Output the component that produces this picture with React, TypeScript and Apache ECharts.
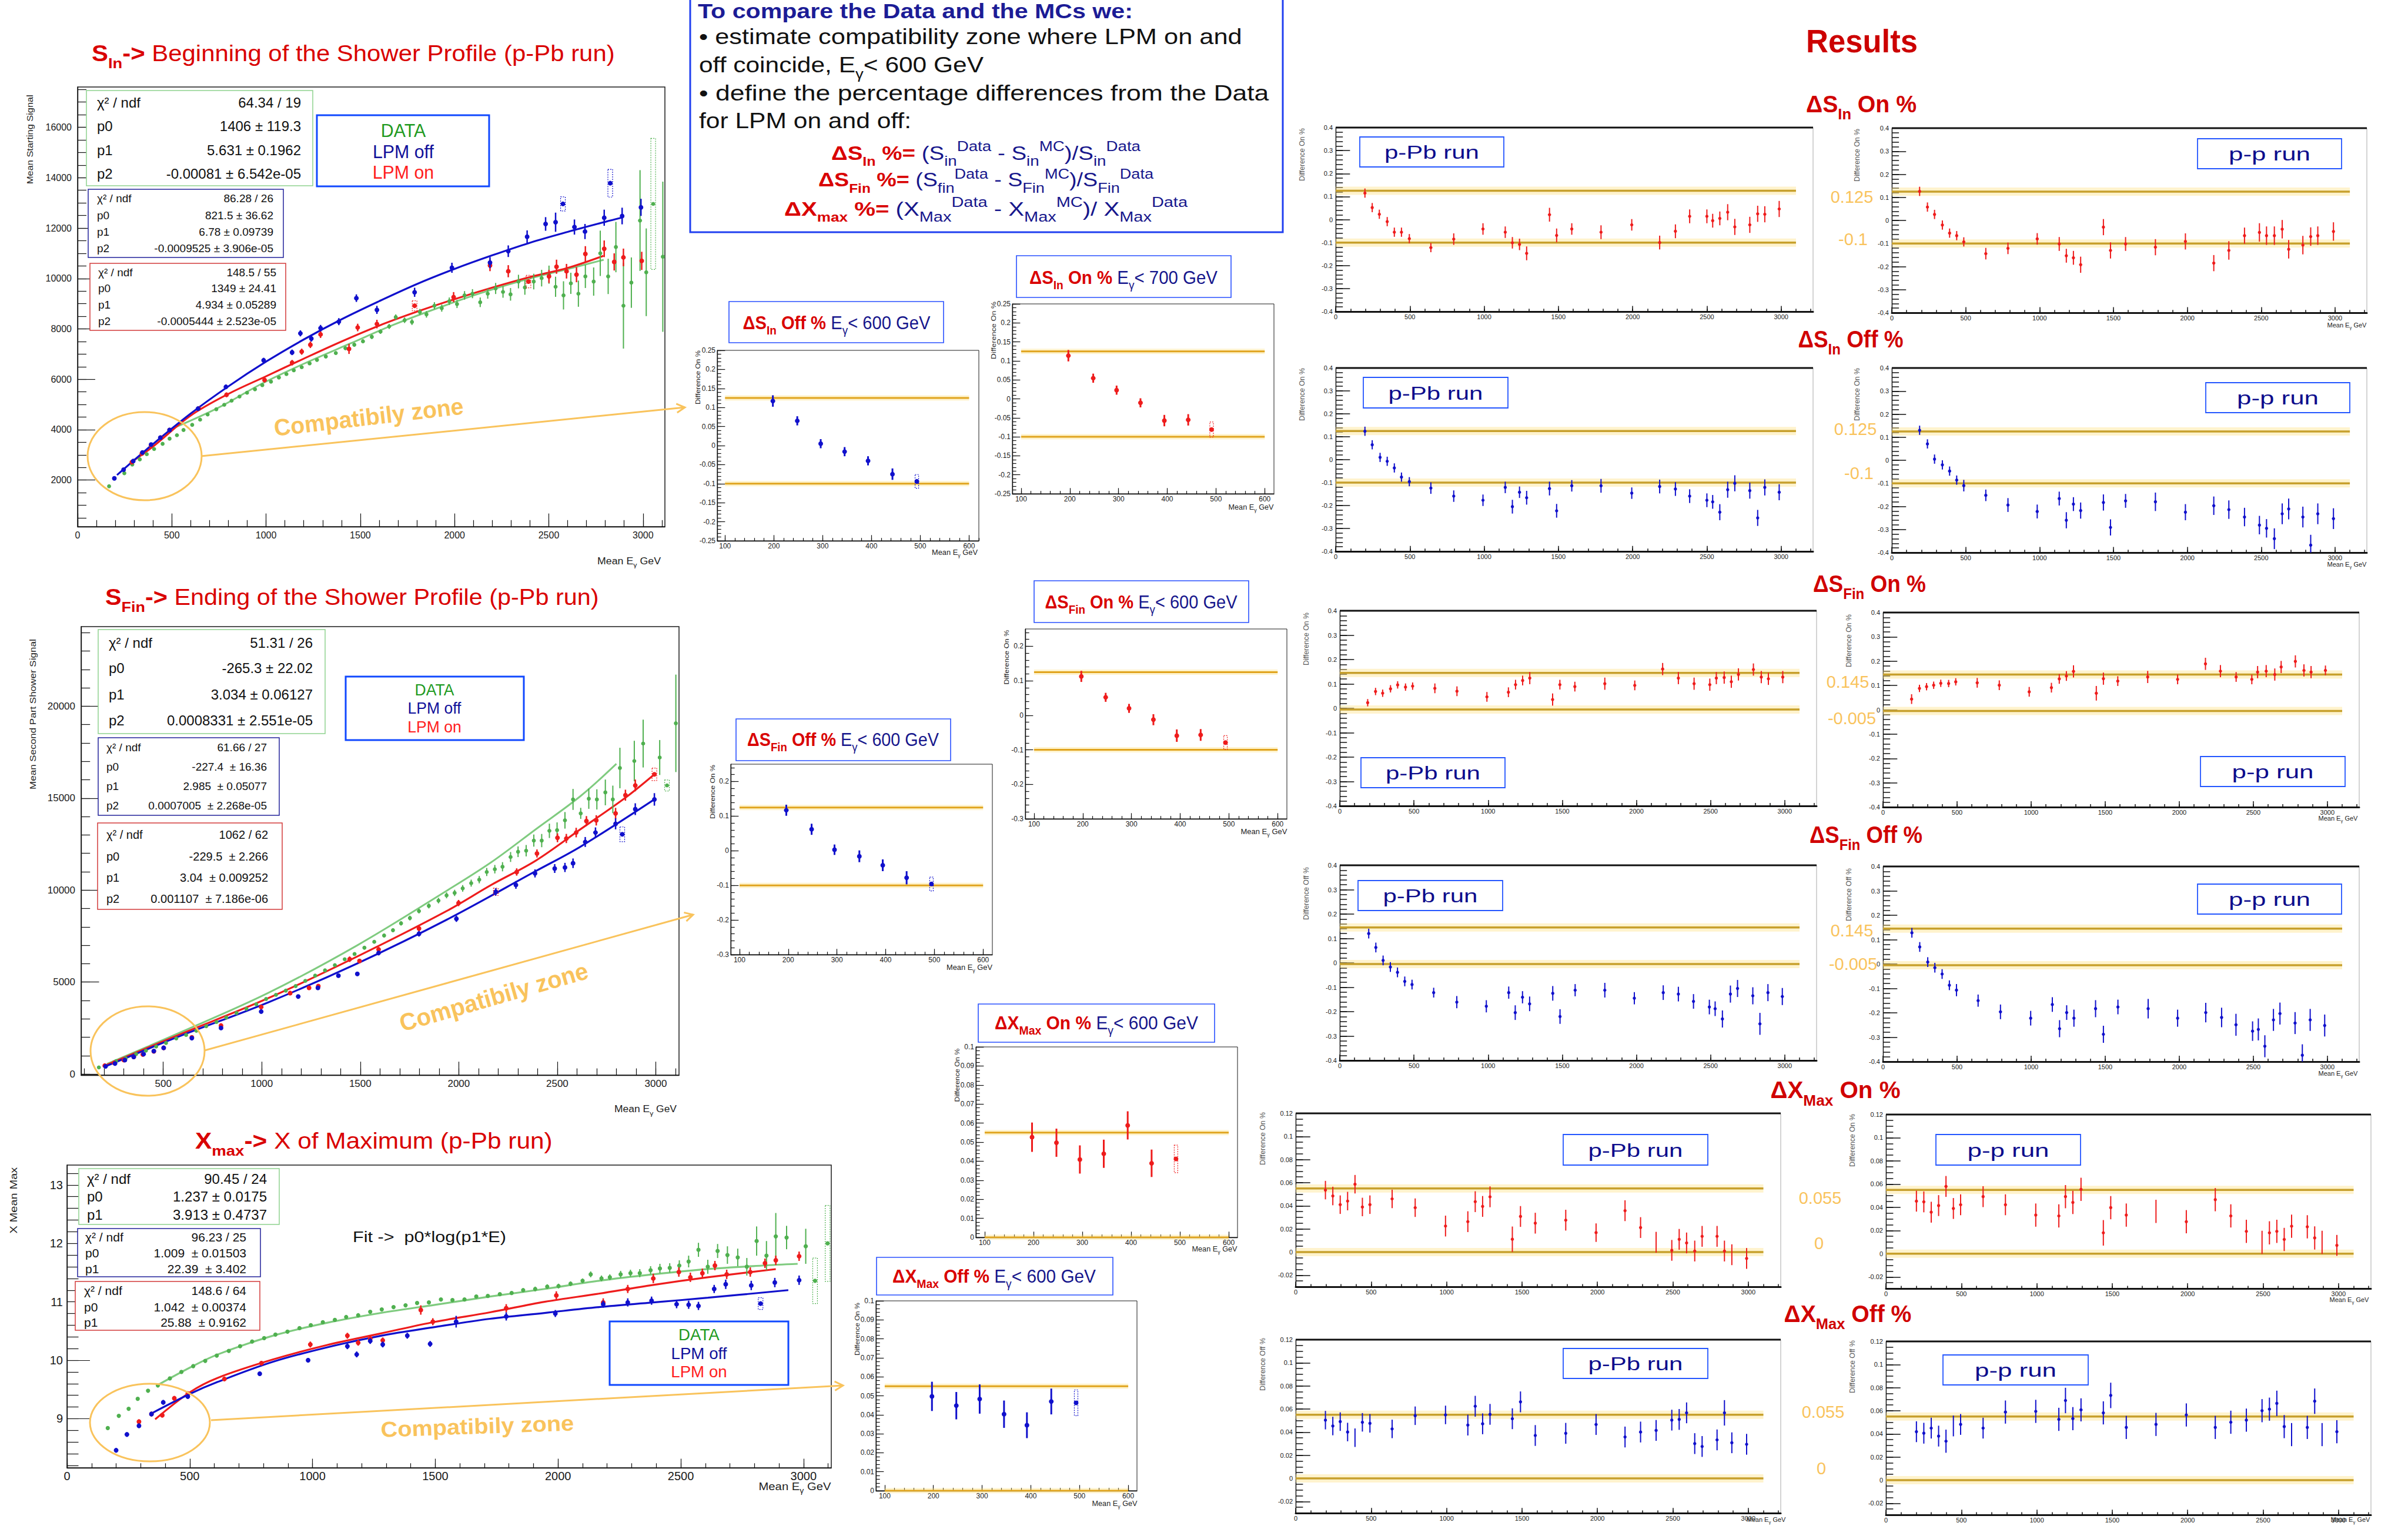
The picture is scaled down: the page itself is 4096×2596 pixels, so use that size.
import React, { useEffect, useRef } from "react";
import * as echarts from "echarts";

const FONT = "Liberation Sans";
const RED = "#d90000";
const NAVY = "#16168c";
const ORANGE = "#f9c35c";
const GREEN_PT = "#4fb04f";
const GREEN_LN = "#7fcb7f";
const BLUE = "#1010cc";
const REDPT = "#ee1c1c";

// ================= DATA =================
// --- S_in (p-Pb) ---
const SIN_X_TICKS = [0, 500, 1000, 1500, 2000, 2500, 3000];
const SIN_Y_TICKS = [2000, 4000, 6000, 8000, 10000, 12000, 14000, 16000];
const SIN_DATA = [
  [167, 1753, 40], [248, 2274, 40], [290, 2617, 40], [330, 2822, 40], [367, 3028, 40], [406, 3233, 40], [451, 3439, 40], [488, 3644, 40],
  [527, 3781, 40], [562, 3987, 40], [608, 4192, 40], [650, 4398, 40], [690, 4603, 40], [736, 4809, 40], [778, 4987, 50], [817, 5151, 50],
  [859, 5315, 50], [899, 5466, 50], [941, 5603, 50], [980, 5768, 50], [1026, 5905, 50], [1068, 6069, 60], [1108, 6206, 60], [1147, 6357, 60],
  [1189, 6480, 60], [1231, 6631, 60], [1270, 6768, 70], [1317, 6905, 70], [1370, 7042, 70], [1421, 7234, 80], [1468, 7370, 80], [1514, 7507, 80],
  [1561, 7686, 90], [1607, 7891, 90], [1653, 8097, 100], [1688, 8466, 110], [1735, 8343, 110], [1774, 8275, 120], [1816, 8672, 120], [1851, 8576, 130],
  [1893, 8919, 140], [1932, 8823, 140], [1972, 9097, 150], [2013, 8987, 160], [2053, 9330, 170], [2095, 9398, 180], [2136, 9056, 190], [2176, 9398, 200],
  [2218, 9604, 220], [2257, 9467, 230], [2297, 9371, 250], [2339, 9878, 270], [2373, 9645, 290], [2420, 9878, 310], [2462, 10015, 330], [2501, 10152, 360],
  [2536, 9672, 400], [2578, 9330, 560], [2617, 9809, 420], [2657, 9398, 520], [2694, 10083, 460], [2738, 9878, 560], [2773, 11000, 900], [2815, 10083, 700],
  [2856, 11248, 1000], [2896, 8919, 1700], [2938, 9836, 1000], [2984, 12300, 2000], [3017, 10247, 1740], [3054, 12960, 2600, 1], [3105, 10864, 2980],
];
const SIN_LPM_OFF = [
  [195, 2068, 50], [244, 2411, 50], [295, 2754, 50], [344, 3096, 60], [390, 3411, 60], [439, 3685, 60], [488, 3987, 70], [639, 4836, 80],
  [787, 5699, 90], [987, 6754, 100], [1138, 7069, 110], [1182, 7823, 120], [1240, 7617, 120], [1289, 8028, 130], [1386, 8288, 140], [1479, 9220, 150],
  [1588, 8754, 160], [1788, 9453, 180], [1986, 10426, 200], [2188, 10631, 220], [2285, 11083, 230], [2385, 11659, 250], [2483, 12165, 270], [2536, 12234, 380],
  [2575, 12960, 280, 1], [2636, 12042, 300], [2692, 11864, 300], [2794, 12412, 320], [2826, 13782, 550, 1], [2889, 12480, 330], [2989, 12823, 340],
];
const SIN_LPM_ON = [
  [288, 2712, 50], [341, 3055, 60], [390, 3370, 60], [441, 3685, 60], [488, 3987, 70], [643, 4836, 80], [790, 5384, 90], [992, 5973, 100],
  [1138, 6658, 110], [1189, 7096, 120], [1235, 7370, 130], [1289, 7781, 140], [1440, 7206, 200], [1486, 8055, 150], [1588, 8192, 170], [1788, 8919, 200, 1],
  [1995, 9261, 200], [2188, 10521, 230], [2285, 10289, 240], [2392, 9878, 250, 1], [2501, 10083, 260], [2541, 10467, 280], [2594, 10289, 290], [2647, 10152, 300],
  [2694, 10974, 310], [2794, 11179, 330], [2847, 10658, 340], [2896, 10837, 350], [2993, 10700, 360],
];
const SIN_FIT_DATA = [[520, 4100], [748, 4877], [980, 5836], [1212, 6658], [1444, 7412], [1677, 8165], [1909, 8823], [2141, 9426], [2373, 9946], [2606, 10385], [2791, 10741]];
const SIN_FIT_OFF = [[209, 2200], [400, 3430], [600, 4640], [800, 5720], [1000, 6700], [1200, 7580], [1400, 8380], [1600, 9100], [1800, 9780], [2000, 10380], [2200, 10920], [2400, 11420], [2600, 11850], [2800, 12250], [2890, 12420]];
const SIN_FIT_ON = [[280, 2690], [400, 3330], [600, 4560], [800, 5420], [1000, 6120], [1200, 6820], [1400, 7500], [1600, 8130], [1800, 8680], [2000, 9180], [2200, 9640], [2400, 10060], [2600, 10420], [2790, 10900]];
const SIN_STAT_DATA = ["64.34 / 19", "1406 ± 119.3", "5.631 ± 0.1962", "-0.00081 ± 6.542e-05"];
const SIN_STAT_OFF = ["86.28 / 26", "821.5 ± 36.62", "6.78 ± 0.09739", "-0.0009525 ± 3.906e-05"];
const SIN_STAT_ON = ["148.5 / 55", "1349 ± 24.41", "4.934 ± 0.05289", "-0.0005444 ± 2.523e-05"];

// --- S_fin (p-Pb) ---
const SFIN_X_TICKS = [500, 1000, 1500, 2000, 2500, 3000];
const SFIN_Y_TICKS = [0, 5000, 10000, 15000, 20000];
const SFIN_DATA = [
  [173, 361, 30], [260, 702, 30], [309, 854, 30], [362, 1082, 30], [412, 1271, 30], [464, 1499, 30], [514, 1689, 30], [566, 1935, 40],
  [616, 2125, 40], [668, 2353, 40], [718, 2600, 40], [770, 2828, 40], [820, 3074, 50], [872, 3321, 50], [922, 3549, 50], [972, 3795, 50],
  [1022, 4080, 60], [1072, 4307, 60], [1122, 4535, 60], [1172, 4782, 70], [1221, 5066, 70], [1271, 5351, 70], [1321, 5636, 80], [1371, 5920, 80],
  [1421, 6243, 90], [1471, 6527, 90], [1521, 6869, 100], [1571, 7191, 100], [1621, 7533, 110], [1666, 7818, 110], [1707, 8197, 120], [1752, 8482, 130],
  [1798, 8862, 130], [1848, 9146, 140], [1897, 9431, 150], [1938, 9716, 160], [1979, 9849, 170], [2020, 10096, 180], [2063, 10380, 190], [2104, 10570, 200],
  [2142, 10987, 220], [2183, 11139, 230], [2222, 11272, 250], [2263, 11803, 270], [2301, 12088, 290], [2342, 12145, 310], [2381, 12695, 330], [2421, 12695, 360],
  [2460, 13226, 390], [2499, 13264, 420], [2539, 13796, 450], [2580, 14934, 570], [2619, 14175, 300], [2660, 14972, 550], [2701, 14934, 550], [2744, 15314, 700],
  [2782, 14934, 750], [2818, 16642, 1100], [2891, 17022, 1100], [2936, 17971, 1300], [3020, 17212, 950], [3057, 15694, 300, 1], [3102, 19071, 2650],
];
const SFIN_LPM_ON = [
  [203, 455, 40], [250, 607, 40], [300, 759, 40], [350, 930, 40], [396, 1063, 40], [452, 1234, 50], [502, 1423, 50], [645, 1992, 60],
  [793, 2637, 70], [997, 3643, 80], [1144, 4402, 90], [1240, 4686, 100], [1287, 4782, 100], [1446, 6243, 150], [1496, 6148, 120], [1593, 6774, 130],
  [1798, 7913, 150], [1999, 9298, 170], [2188, 9906, 200, 1], [2294, 10987, 200], [2397, 11993, 220], [2501, 12846, 240], [2546, 12808, 250], [2596, 13131, 260],
  [2648, 13757, 270], [2698, 13796, 280], [2796, 14175, 300], [2846, 15162, 300], [2896, 15694, 320], [2993, 16301, 340, 1],
];
const SFIN_LPM_OFF = [
  [207, 417, 40], [255, 569, 40], [305, 759, 40], [350, 930, 40], [400, 1082, 40], [452, 1253, 50], [502, 1423, 50], [645, 1954, 60],
  [793, 2505, 70], [997, 3397, 80], [1185, 4213, 90], [1285, 4687, 100], [1389, 5351, 100], [1485, 5446, 110], [1593, 6584, 130], [1798, 7628, 150],
  [1988, 8444, 170], [2188, 9906, 200], [2290, 10284, 210], [2387, 10910, 220], [2487, 11177, 240], [2539, 11234, 250], [2580, 11462, 260], [2642, 12619, 270],
  [2694, 13131, 280], [2796, 13606, 300], [2830, 13037, 400, 1], [2896, 14403, 320], [2993, 14934, 340],
];
const SFIN_FIT_DATA = [[214, 550], [577, 2220], [1031, 4402], [1485, 7002], [1938, 9962], [2165, 11518], [2392, 13320], [2619, 15123], [2800, 16869]];
const SFIN_FIT_ON = [[203, 455], [577, 2125], [1031, 4118], [1485, 6395], [1938, 8861], [2165, 10284], [2392, 11613], [2619, 13320], [2846, 15028], [2993, 16300]];
const SFIN_FIT_OFF = [[207, 417], [577, 2030], [1031, 3890], [1485, 6015], [1938, 8387], [2392, 11043], [2619, 12372], [2993, 14934]];
const SFIN_STAT_DATA = ["51.31 / 26", "-265.3 ± 22.02", "3.034 ± 0.06127", "0.0008331 ± 2.551e-05"];
const SFIN_STAT_OFF = ["61.66 / 27", "-227.4  ± 16.36", "2.985  ± 0.05077", "0.0007005  ± 2.268e-05"];
const SFIN_STAT_ON = ["1062 / 62", "-229.5  ± 2.266", "3.04  ± 0.009252", "0.001107  ± 7.186e-06"];

// --- X_max (p-Pb) ---
const XMAX_X_TICKS = [0, 500, 1000, 1500, 2000, 2500, 3000];
const XMAX_Y_TICKS = [9, 10, 11, 12, 13];
const XMAX_DATA = [
  [166, 8.84, 0.02], [211, 9.05, 0.02], [251, 9.17, 0.02], [288, 9.34, 0.02], [330, 9.48, 0.02], [370, 9.57, 0.02], [419, 9.69, 0.02], [466, 9.8, 0.02],
  [514, 9.9, 0.02], [563, 9.99, 0.02], [610, 10.08, 0.02], [659, 10.16, 0.02], [705, 10.24, 0.02], [754, 10.32, 0.02], [803, 10.38, 0.02], [849, 10.44, 0.02],
  [898, 10.49, 0.02], [947, 10.55, 0.02], [993, 10.6, 0.02], [1042, 10.65, 0.02], [1091, 10.69, 0.02], [1137, 10.74, 0.02], [1186, 10.77, 0.03], [1235, 10.83, 0.03],
  [1282, 10.87, 0.03], [1330, 10.91, 0.03], [1379, 10.94, 0.03], [1426, 10.98, 0.03], [1474, 10.99, 0.03], [1523, 11.04, 0.03], [1570, 11.03, 0.03], [1619, 11.04, 0.03],
  [1667, 11.09, 0.03], [1714, 11.1, 0.03], [1763, 11.13, 0.03], [1811, 11.15, 0.03], [1858, 11.2, 0.03], [1907, 11.22, 0.04], [1956, 11.26, 0.04], [2002, 11.27, 0.04],
  [2051, 11.31, 0.04], [2100, 11.36, 0.04], [2133, 11.47, 0.05], [2177, 11.4, 0.05], [2211, 11.42, 0.05], [2255, 11.47, 0.06], [2295, 11.49, 0.06], [2333, 11.49, 0.07],
  [2377, 11.54, 0.07], [2415, 11.57, 0.08], [2455, 11.58, 0.08], [2494, 11.62, 0.09], [2532, 11.69, 0.1], [2572, 11.89, 0.12], [2610, 11.6, 0.12], [2650, 11.87, 0.12],
  [2690, 11.8, 0.15], [2732, 11.76, 0.15], [2769, 11.6, 0.15], [2809, 12.04, 0.25], [2849, 11.79, 0.25], [2887, 12.12, 0.4], [2931, 12.1, 0.2], [3009, 11.95, 0.3],
  [3047, 11.36, 0.39, 1], [3098, 12.0, 0.65, 1],
];
const XMAX_LPM_ON = [
  [293, 8.95, 0.04], [344, 9.08, 0.04], [388, 9.06, 0.04], [437, 9.35, 0.04], [492, 9.43, 0.04], [641, 9.68, 0.04], [792, 9.95, 0.04], [991, 10.27, 0.05],
  [1142, 10.42, 0.05], [1186, 10.3, 0.05], [1235, 10.37, 0.05], [1286, 10.34, 0.05], [1441, 10.86, 0.08], [1490, 10.66, 0.06], [1789, 10.89, 0.07], [1993, 11.11, 0.07],
  [2184, 10.99, 0.07], [2284, 11.22, 0.07], [2388, 11.4, 0.08], [2492, 11.51, 0.08], [2539, 11.42, 0.08], [2588, 11.49, 0.08], [2639, 11.62, 0.08], [2687, 11.47, 0.08],
  [2783, 11.51, 0.08], [2843, 11.66, 0.08], [2887, 11.71, 0.08], [2982, 11.78, 0.08],
];
const XMAX_LPM_OFF = [
  [200, 8.46, 0.04], [244, 8.73, 0.04], [293, 8.88, 0.04], [344, 9.08, 0.04], [392, 9.28, 0.04], [492, 9.38, 0.04], [785, 9.77, 0.04], [982, 10.0, 0.04],
  [1142, 10.24, 0.05], [1180, 10.1, 0.05], [1235, 10.33, 0.05], [1286, 10.27, 0.05], [1386, 10.42, 0.05], [1479, 10.28, 0.05], [1585, 10.66, 0.1], [1789, 10.75, 0.07],
  [1989, 10.8, 0.06], [2184, 10.96, 0.06], [2284, 10.99, 0.07], [2381, 11.02, 0.07], [2483, 10.96, 0.07], [2532, 10.95, 0.07], [2572, 10.93, 0.07], [2636, 11.22, 0.07],
  [2683, 11.3, 0.08], [2787, 11.28, 0.08], [2825, 10.97, 0.1, 1], [2883, 11.33, 0.08], [2982, 11.37, 0.08],
];
const XMAX_FIT_DATA = [[370, 9.577], [503, 9.88], [614, 10.1], [836, 10.417], [1058, 10.64], [1279, 10.81], [1501, 10.95], [1723, 11.09], [1945, 11.22], [2166, 11.36], [2388, 11.47], [2610, 11.56], [2831, 11.62], [2976, 11.65]];
const XMAX_FIT_ON = [[359, 8.99], [503, 9.46], [614, 9.7], [836, 10.01], [1058, 10.26], [1279, 10.46], [1501, 10.66], [1723, 10.82], [1945, 11.0], [2166, 11.14], [2388, 11.29], [2610, 11.42], [2887, 11.56]];
const XMAX_FIT_OFF = [[348, 9.1], [503, 9.43], [614, 9.63], [836, 9.97], [1058, 10.22], [1279, 10.42], [1501, 10.57], [1723, 10.71], [1945, 10.81], [2166, 10.91], [2388, 10.99], [2610, 11.07], [2938, 11.2]];
const XMAX_STAT_DATA = ["90.45 / 24", "1.237 ± 0.0175", "3.913 ± 0.4737"];
const XMAX_STAT_OFF = ["96.23 / 25", "1.009  ± 0.01503", "22.39  ± 3.402"];
const XMAX_STAT_ON = ["148.6 / 64", "1.042  ± 0.00374", "25.88  ± 0.9162"];

// --- zoomed compatibility plots (E < 600 GeV) ---
const MID_X_TICKS = [100, 200, 300, 400, 500, 600];
const MID_SIN_Y_TICKS = [-0.25, -0.2, -0.15, -0.1, -0.05, 0, 0.05, 0.1, 0.15, 0.2, 0.25];
const MID_SFIN_Y_TICKS = [-0.3, -0.2, -0.1, 0, 0.1, 0.2];
const MID_X_Y_TICKS = [0, 0.01, 0.02, 0.03, 0.04, 0.05, 0.06, 0.07, 0.08, 0.09, 0.1];
const MID_S_LIMITS = [0.125, -0.1];
const MID_X_LIMITS = [0.055, 0];
const MID_SPAN = [100, 600];
const DSIN_OFF_LOW = [[198, 0.117, 0.015], [248, 0.065, 0.012], [296, 0.005, 0.012], [345, -0.016, 0.012], [393, -0.04, 0.012], [443, -0.075, 0.015], [493, -0.094, 0.018, 1]];
const DSIN_ON_LOW = [[197, 0.1136, 0.015], [248, 0.0544, 0.012], [296, 0.0229, 0.012], [345, -0.0105, 0.012], [394, -0.0573, 0.015], [443, -0.0553, 0.015], [491, -0.081, 0.02, 1]];
const DSFIN_ON_LOW = [[197, 0.1126, 0.016], [247, 0.052, 0.013], [295, 0.02, 0.013], [345, -0.0128, 0.016], [393, -0.059, 0.018], [442, -0.057, 0.017], [493, -0.079, 0.02, 1]];
const DSFIN_OFF_LOW = [[196, 0.117, 0.016], [248, 0.062, 0.016], [295, 0.003, 0.015], [346, -0.016, 0.017], [394, -0.042, 0.017], [443, -0.078, 0.019], [494, -0.096, 0.02, 1]];
const DXMAX_ON_LOW = [[197, 0.0526, 0.0077], [247, 0.0497, 0.0074], [295, 0.0409, 0.0074], [344, 0.0439, 0.0074], [393, 0.0588, 0.0074], [442, 0.0389, 0.0072], [492, 0.0412, 0.0072, 1]];
const DXMAX_OFF_LOW = [[197, 0.0497, 0.0077], [247, 0.0448, 0.0072], [295, 0.0483, 0.0077], [345, 0.0403, 0.0072], [392, 0.0345, 0.0068], [442, 0.047, 0.0068], [493, 0.0463, 0.0068, 1]];

// --- Results (full energy range) ---
const RES_X_TICKS = [0, 500, 1000, 1500, 2000, 2500, 3000];
const RES_S_Y_TICKS = [-0.4, -0.3, -0.2, -0.1, 0, 0.1, 0.2, 0.3, 0.4];
const RES_X_Y_TICKS = [-0.02, 0, 0.02, 0.04, 0.06, 0.08, 0.1, 0.12];
const RES_SPAN = [0, 3100];
const RES_IN_LIMITS = [0.125, -0.1];
const RES_FIN_LIMITS = [0.145, -0.005];
const RES_XM_LIMITS = [0.055, 0];
const RES_LIMIT_LABELS = [["0.125", "-0.1"], ["0.125", "-0.1"], ["0.145", "-0.005"], ["0.145", "-0.005"], ["0.055", "0"], ["0.055", "0"]];
const DSIN_ON_PPB = [[197, 0.115, 0.02], [246, 0.052, 0.02], [294, 0.023, 0.02], [347, -0.009, 0.02], [395, -0.055, 0.02], [443, -0.055, 0.02], [496, -0.083, 0.02], [641, -0.122, 0.02], [795, -0.085, 0.025], [992, -0.041, 0.025], [1142, -0.055, 0.025], [1190, -0.101, 0.025], [1238, -0.108, 0.025], [1286, -0.147, 0.03], [1440, 0.021, 0.03], [1488, -0.069, 0.03], [1590, -0.041, 0.025], [1787, -0.055, 0.03], [1994, -0.023, 0.025], [2182, -0.1, 0.03], [2288, -0.051, 0.03], [2384, 0.014, 0.03], [2500, 0.014, 0.03], [2539, -0.005, 0.03], [2587, 0.005, 0.03], [2640, 0.032, 0.035], [2688, -0.032, 0.035], [2789, -0.023, 0.035], [2842, 0.025, 0.035], [2890, 0.023, 0.035], [2987, 0.046, 0.035]];
const DSIN_ON_PP = [[188, 0.126, 0.02], [241, 0.058, 0.02], [289, 0.026, 0.02], [342, -0.02, 0.02], [391, -0.055, 0.02], [439, -0.066, 0.02], [487, -0.093, 0.02], [636, -0.144, 0.025], [786, -0.121, 0.025], [984, -0.08, 0.025], [1133, -0.102, 0.03], [1181, -0.153, 0.03], [1229, -0.162, 0.03], [1278, -0.192, 0.035], [1432, -0.029, 0.035], [1480, -0.13, 0.035], [1582, -0.102, 0.03], [1784, -0.116, 0.035], [1987, -0.091, 0.035], [2179, -0.185, 0.035], [2281, -0.13, 0.04], [2387, -0.066, 0.035], [2488, -0.052, 0.04], [2536, -0.066, 0.04], [2589, -0.066, 0.04], [2642, -0.038, 0.04], [2686, -0.125, 0.04], [2782, -0.107, 0.04], [2835, -0.07, 0.04], [2883, -0.066, 0.04], [2989, -0.048, 0.04]];
const DSIN_OFF_PPB = [[197, 0.124, 0.02], [246, 0.065, 0.02], [299, 0.01, 0.02], [347, -0.007, 0.02], [395, -0.036, 0.02], [443, -0.076, 0.02], [496, -0.096, 0.02], [641, -0.124, 0.025], [795, -0.159, 0.025], [992, -0.177, 0.025], [1142, -0.121, 0.025], [1190, -0.205, 0.03], [1238, -0.142, 0.025], [1286, -0.166, 0.03], [1440, -0.126, 0.03], [1488, -0.223, 0.03], [1590, -0.114, 0.025], [1787, -0.114, 0.03], [1994, -0.146, 0.025], [2182, -0.117, 0.03], [2288, -0.128, 0.03], [2384, -0.159, 0.03], [2500, -0.177, 0.03], [2539, -0.184, 0.03], [2587, -0.229, 0.035], [2640, -0.131, 0.035], [2688, -0.103, 0.035], [2789, -0.135, 0.035], [2842, -0.254, 0.035], [2890, -0.121, 0.035], [2987, -0.142, 0.035]];
const DSIN_OFF_PP = [[188, 0.13, 0.02], [241, 0.071, 0.02], [289, 0.005, 0.02], [342, -0.02, 0.02], [391, -0.047, 0.02], [439, -0.086, 0.02], [487, -0.11, 0.025], [636, -0.152, 0.025], [786, -0.194, 0.03], [984, -0.222, 0.03], [1133, -0.166, 0.03], [1181, -0.26, 0.035], [1229, -0.19, 0.03], [1278, -0.218, 0.035], [1432, -0.183, 0.035], [1480, -0.291, 0.035], [1582, -0.176, 0.03], [1784, -0.18, 0.04], [1987, -0.225, 0.035], [2179, -0.197, 0.04], [2281, -0.214, 0.04], [2387, -0.246, 0.04], [2488, -0.281, 0.04], [2536, -0.295, 0.04], [2589, -0.34, 0.045], [2642, -0.232, 0.045], [2686, -0.211, 0.045], [2782, -0.246, 0.045], [2835, -0.368, 0.045], [2883, -0.232, 0.045], [2989, -0.253, 0.045]];
const DSFIN_ON_PPB = [[188, 0.023, 0.015], [241, 0.069, 0.015], [289, 0.062, 0.015], [342, 0.08, 0.015], [390, 0.096, 0.015], [443, 0.087, 0.015], [491, 0.091, 0.015], [641, 0.082, 0.02], [790, 0.07, 0.02], [992, 0.047, 0.02], [1137, 0.066, 0.02], [1185, 0.097, 0.02], [1233, 0.114, 0.02], [1281, 0.124, 0.025], [1435, 0.036, 0.025], [1484, 0.097, 0.02], [1585, 0.089, 0.02], [1787, 0.101, 0.025], [1989, 0.094, 0.02], [2177, 0.161, 0.025], [2283, 0.124, 0.025], [2389, 0.101, 0.025], [2495, 0.097, 0.025], [2539, 0.124, 0.025], [2592, 0.126, 0.025], [2640, 0.109, 0.025], [2688, 0.139, 0.025], [2789, 0.159, 0.025], [2842, 0.128, 0.025], [2890, 0.121, 0.025], [2987, 0.128, 0.025]];
const DSFIN_ON_PP = [[193, 0.044, 0.02], [246, 0.088, 0.015], [294, 0.095, 0.015], [342, 0.101, 0.015], [390, 0.109, 0.015], [443, 0.108, 0.015], [491, 0.115, 0.015], [636, 0.111, 0.02], [785, 0.101, 0.02], [987, 0.074, 0.02], [1137, 0.091, 0.02], [1190, 0.127, 0.02], [1238, 0.139, 0.02], [1286, 0.158, 0.025], [1440, 0.068, 0.03], [1488, 0.128, 0.025], [1585, 0.118, 0.02], [1787, 0.135, 0.025], [1989, 0.125, 0.02], [2177, 0.189, 0.025], [2278, 0.159, 0.025], [2384, 0.135, 0.02], [2490, 0.125, 0.02], [2529, 0.155, 0.025], [2587, 0.159, 0.025], [2645, 0.145, 0.025], [2688, 0.176, 0.025], [2784, 0.199, 0.025], [2842, 0.162, 0.025], [2890, 0.155, 0.025], [2987, 0.162, 0.02]];
const DSFIN_OFF_PPB = [[195, 0.12, 0.02], [243, 0.063, 0.02], [292, 0.01, 0.02], [341, -0.017, 0.02], [389, -0.039, 0.02], [438, -0.076, 0.02], [487, -0.089, 0.02], [633, -0.122, 0.02], [789, -0.161, 0.025], [988, -0.178, 0.025], [1139, -0.122, 0.025], [1183, -0.204, 0.03], [1232, -0.141, 0.025], [1280, -0.168, 0.03], [1436, -0.125, 0.03], [1485, -0.22, 0.03], [1587, -0.112, 0.025], [1787, -0.112, 0.03], [1986, -0.145, 0.025], [2181, -0.122, 0.03], [2283, -0.128, 0.03], [2385, -0.158, 0.03], [2492, -0.181, 0.03], [2531, -0.188, 0.03], [2580, -0.23, 0.035], [2634, -0.128, 0.035], [2682, -0.105, 0.035], [2785, -0.135, 0.035], [2833, -0.25, 0.045], [2887, -0.122, 0.035], [2984, -0.138, 0.035]];
const DSFIN_OFF_PP = [[195, 0.128, 0.02], [248, 0.07, 0.02], [302, 0.008, 0.02], [350, -0.015, 0.02], [399, -0.041, 0.02], [448, -0.087, 0.02], [496, -0.107, 0.025], [642, -0.15, 0.025], [793, -0.196, 0.03], [997, -0.222, 0.03], [1143, -0.166, 0.03], [1192, -0.265, 0.035], [1240, -0.199, 0.03], [1289, -0.222, 0.035], [1435, -0.183, 0.035], [1488, -0.288, 0.035], [1586, -0.176, 0.03], [1790, -0.183, 0.04], [1989, -0.222, 0.035], [2179, -0.199, 0.04], [2286, -0.219, 0.04], [2383, -0.249, 0.045], [2495, -0.275, 0.04], [2534, -0.268, 0.045], [2578, -0.337, 0.045], [2636, -0.229, 0.045], [2680, -0.203, 0.045], [2782, -0.242, 0.045], [2831, -0.374, 0.045], [2884, -0.229, 0.045], [2982, -0.252, 0.045]];
const DXMAX_ON_PPB = [[197, 0.0536, 0.008], [246, 0.0485, 0.008], [295, 0.041, 0.008], [344, 0.0441, 0.008], [393, 0.0587, 0.008], [442, 0.039, 0.008], [492, 0.041, 0.008], [639, 0.046, 0.008], [792, 0.0384, 0.008], [993, 0.0225, 0.009], [1141, 0.0263, 0.009], [1190, 0.0436, 0.009], [1239, 0.0395, 0.009], [1288, 0.0478, 0.009], [1436, 0.0111, 0.011], [1490, 0.0308, 0.009], [1588, 0.025, 0.009], [1790, 0.0276, 0.009], [1991, 0.0168, 0.008], [2183, 0.0358, 0.009], [2286, 0.0212, 0.009], [2389, 0.0085, 0.009], [2493, 0.0015, 0.009], [2542, 0.011, 0.009], [2591, 0.0079, 0.009], [2645, 0.0009, 0.009], [2694, 0.0136, 0.009], [2793, 0.0136, 0.009], [2842, 0.0009, 0.009], [2891, -0.0023, 0.009], [2989, -0.0055, 0.009]];
const DXMAX_ON_PP = [[202, 0.0453, 0.009], [251, 0.0447, 0.009], [300, 0.0358, 0.009], [349, 0.0415, 0.009], [398, 0.058, 0.009], [447, 0.039, 0.009], [495, 0.0422, 0.009], [644, 0.0492, 0.009], [792, 0.0422, 0.009], [993, 0.0333, 0.01], [1146, 0.0326, 0.01], [1190, 0.0492, 0.01], [1239, 0.0442, 0.01], [1293, 0.0555, 0.01], [1441, 0.018, 0.011], [1490, 0.0397, 0.01], [1593, 0.0333, 0.01], [1790, 0.0365, 0.01], [1991, 0.0276, 0.01], [2183, 0.0466, 0.01], [2286, 0.0326, 0.01], [2389, 0.0193, 0.01], [2493, 0.0098, 0.01], [2542, 0.018, 0.01], [2591, 0.0193, 0.01], [2640, 0.0123, 0.01], [2689, 0.0237, 0.01], [2793, 0.0232, 0.01], [2842, 0.0136, 0.01], [2891, 0.0098, 0.01], [2989, 0.0072, 0.009]];
const DXMAX_OFF_PPB = [[197, 0.0504, 0.008], [246, 0.0453, 0.008], [295, 0.0491, 0.008], [344, 0.0401, 0.008], [393, 0.0352, 0.008], [442, 0.0485, 0.008], [492, 0.0476, 0.008], [639, 0.0428, 0.008], [792, 0.0542, 0.008], [993, 0.0549, 0.008], [1141, 0.0461, 0.009], [1190, 0.0624, 0.009], [1239, 0.0472, 0.009], [1288, 0.0554, 0.009], [1436, 0.0516, 0.009], [1490, 0.0662, 0.009], [1588, 0.0371, 0.009], [1790, 0.039, 0.009], [1991, 0.0466, 0.009], [2183, 0.0358, 0.009], [2286, 0.0401, 0.009], [2389, 0.0415, 0.009], [2493, 0.0504, 0.009], [2542, 0.051, 0.009], [2591, 0.0567, 0.009], [2645, 0.0301, 0.009], [2694, 0.0276, 0.009], [2793, 0.0333, 0.009], [2842, 0.0567, 0.011], [2891, 0.0308, 0.009], [2989, 0.0295, 0.009]];
const DXMAX_OFF_PP = [[202, 0.0419, 0.009], [251, 0.0406, 0.009], [300, 0.045, 0.009], [349, 0.0381, 0.009], [398, 0.0337, 0.01], [447, 0.0469, 0.009], [495, 0.0482, 0.009], [644, 0.045, 0.009], [792, 0.0589, 0.01], [993, 0.0595, 0.01], [1146, 0.0526, 0.01], [1190, 0.0689, 0.011], [1239, 0.0532, 0.01], [1293, 0.0608, 0.01], [1441, 0.0582, 0.01], [1490, 0.0733, 0.011], [1593, 0.0456, 0.01], [1790, 0.0482, 0.01], [1991, 0.0564, 0.01], [2183, 0.0456, 0.01], [2286, 0.0501, 0.01], [2389, 0.0519, 0.01], [2493, 0.0601, 0.01], [2542, 0.0614, 0.01], [2591, 0.0664, 0.011], [2640, 0.0463, 0.01], [2689, 0.0394, 0.01], [2793, 0.0456, 0.01], [2842, 0.0683, 0.011], [2891, 0.0394, 0.01], [2989, 0.0419, 0.01]];

// ================= HELPERS =================
function fmt(v: number) {
  return String(parseFloat(Number(v).toFixed(6)));
}
function minors(lo: number, hi: number, step: number) {
  const out: number[] = [];
  const n0 = Math.ceil(lo / step - 1e-9);
  const n1 = Math.floor(hi / step + 1e-9);
  for (let k = n0; k <= n1; k++) out.push(parseFloat((k * step).toFixed(6)));
  return out;
}
let _ctx: any = null;
function tw(t: string, size: number, bold: boolean) {
  if (!_ctx) _ctx = document.createElement("canvas").getContext("2d");
  _ctx.font = `${bold ? "bold " : ""}${size}px "${FONT}"`;
  return _ctx.measureText(t).width;
}
type Seg = { t: string; s?: number; b?: boolean; c?: string; dy?: number };
function seq(x: number, y: number, segs: Seg[], o: any) {
  const parts = segs.map((g) => {
    const sz = o.size * (g.s ?? 1);
    const b = g.b ?? !!o.bold;
    return { g, sz, b, w: tw(g.t, sz, b) };
  });
  const W = parts.reduce((a, p) => a + p.w, 0);
  let sx = o.width ? o.width / W : 1;
  sx = Math.max(o.minS ?? 0.6, Math.min(o.maxS ?? 1.6, sx));
  let cx = o.align === "center" ? -W / 2 : o.align === "right" ? -W : 0;
  const base = 0.35 * o.size;
  const children = parts.map((p) => {
    const el = {
      type: "text",
      x: cx,
      y: base + (p.g.dy ?? 0) * o.size - 0.35 * p.sz,
      z: 100,
      silent: true,
      style: {
        text: p.g.t, fontSize: p.sz, fontFamily: FONT, fontWeight: p.b ? "bold" : "normal",
        fill: p.g.c ?? o.color ?? "#111", align: "left", verticalAlign: "middle", textAlign: "left", textVerticalAlign: "middle",
      },
    };
    cx += p.w;
    return el;
  });
  return { type: "group", x, y, rotation: o.rot ?? 0, scaleX: sx, z: 100, children };
}
function rect(b: number[], stroke: string, lw: number, fill = "none") {
  return { type: "rect", z: 99, silent: true, shape: { x: b[0], y: b[1], width: b[2] - b[0], height: b[3] - b[1] }, style: { fill, stroke, lineWidth: lw } };
}
function hline(x1: number, y1: number, x2: number, y2: number, stroke: string, lw: number) {
  return { type: "line", z: 99, silent: true, shape: { x1, y1, x2, y2 }, style: { stroke, lineWidth: lw } };
}

function buildOption() {
  const grids: any[] = [];
  const xAxes: any[] = [];
  const yAxes: any[] = [];
  const series: any[] = [];
  const gfx: any[] = [];

  function plot(box: number[], xr: number[], yr: number[], xt: number[], xs: number, yt: number[], ys: number[], kind: string, fs: number, lmx: number, lmy: number) {
    const [x1, y1, x2, y2] = box;
    const gi = grids.length;
    grids.push({
      left: x1, top: y1, width: x2 - x1, height: y2 - y1, show: true,
      borderColor: kind === "res" ? "#a8a8a8" : "#1a1a1a", borderWidth: kind === "big" ? 1.5 : 1,
      backgroundColor: "rgba(0,0,0,0)", containLabel: false, outerBoundsMode: "none",
    });
    const tlx = 0.03 * (y2 - y1);
    const tly = 0.03 * (x2 - x1);
    const tick = { color: "#111", width: kind === "res" ? 1.5 : 1.2 };
    const lab = { show: true, fontSize: fs, fontFamily: FONT, color: "#1a1a1a", formatter: fmt };
    const base = (min: number, max: number) => ({ gridIndex: gi, type: "value", min, max, splitLine: { show: false }, minorTick: { show: false }, minorSplitLine: { show: false }, silent: true });
    const xi = xAxes.length;
    xAxes.push({ ...base(xr[0], xr[1]), position: "bottom", axisLine: { show: true, onZero: false, lineStyle: { color: "#111", width: kind === "res" ? 3 : 1.3 } }, axisTick: { show: true, inside: true, length: tlx, customValues: xt, lineStyle: tick }, axisLabel: { ...lab, margin: lmx, customValues: xt } });
    xAxes.push({ ...base(xr[0], xr[1]), position: "bottom", axisLine: { show: false, onZero: false }, axisTick: { show: true, inside: true, length: tlx / 2, customValues: minors(xr[0], xr[1], xs), lineStyle: tick }, axisLabel: { show: false } });
    const yi = yAxes.length;
    yAxes.push({ ...base(yr[0], yr[1]), position: "left", axisLine: { show: true, onZero: false, lineStyle: { color: "#111", width: 1.3 } }, axisTick: { show: true, inside: true, length: tly, customValues: yt, lineStyle: tick }, axisLabel: { ...lab, margin: lmy, customValues: yt } });
    yAxes.push({ ...base(yr[0], yr[1]), position: "left", axisLine: { show: false, onZero: false }, axisTick: { show: true, inside: true, length: tly / 2, customValues: minors(yr[0], yr[1], ys), lineStyle: tick }, axisLabel: { show: false } });
    if (kind === "res") gfx.push(hline(x1, y1, x2, y1, "#111", 3));
    return { xi, yi };
  }

  function err(ax: any, data: any[], color: string, r: number, lw: number, bw: number) {
    series.push({
      type: "custom", xAxisIndex: ax.xi, yAxisIndex: ax.yi, data, dimensions: ["x", "y", "e", "b"], encode: { x: 0, y: 1 },
      clip: true, z: 5, silent: true,
      renderItem: (_p: any, api: any) => {
        const x = api.value(0), y = api.value(1), e = api.value(2), bx = api.value(3);
        const p = api.coord([x, y]);
        const hi = api.coord([x, y + e]);
        const lo = api.coord([x, y - e]);
        const ch: any[] = [];
        if (bx === 1) {
          ch.push({ type: "rect", shape: { x: p[0] - bw / 2, y: hi[1], width: bw, height: lo[1] - hi[1] }, style: { fill: "none", stroke: color, lineWidth: 1.2, lineDash: [2, 2] } });
        } else {
          ch.push({ type: "line", shape: { x1: p[0], y1: hi[1], x2: p[0], y2: lo[1] }, style: { stroke: color, lineWidth: lw } });
        }
        ch.push({ type: "circle", shape: { cx: p[0], cy: p[1], r }, style: { fill: color } });
        return { type: "group", children: ch };
      },
    });
  }
  function fit(ax: any, data: any[], color: string, w: number) {
    series.push({ type: "line", xAxisIndex: ax.xi, yAxisIndex: ax.yi, data, smooth: 0.35, symbol: "none", showSymbol: false, lineStyle: { color, width: w }, z: 4, silent: true, clip: true });
  }
  function limits(ax: any, levels: number[], span: number[], core: string, cw: number, bw: number) {
    levels.forEach((l) => {
      const d = [[span[0], l], [span[1], l]];
      series.push({ type: "line", xAxisIndex: ax.xi, yAxisIndex: ax.yi, data: d, symbol: "none", showSymbol: false, lineStyle: { color: "rgba(255,226,130,0.4)", width: bw }, z: 2, silent: true });
      series.push({ type: "line", xAxisIndex: ax.xi, yAxisIndex: ax.yi, data: d, symbol: "none", showSymbol: false, lineStyle: { color: core, width: cw }, z: 3, silent: true });
    });
  }
  function statBox(box: number[], color: string, vals: string[], fs: number, lx: number, rx: number, ys: number[]) {
    const labels = ["χ² / ndf", "p0", "p1", "p2"];
    gfx.push(rect(box, color, 1.5, "#ffffff"));
    vals.forEach((v, i) => {
      gfx.push(seq(lx, ys[i], [{ t: labels[i] }], { size: fs, color: "#111" }));
      gfx.push(seq(rx, ys[i], [{ t: v }], { size: fs, color: "#111", align: "right" }));
    });
  }
  function legend(box: number[], cx: number, ys: number[], size: number, w: number) {
    gfx.push(rect(box, "#1048ff", 3, "#ffffff"));
    const sx = w / tw("LPM off", size, false);
    gfx.push(seq(cx, ys[0], [{ t: "DATA" }], { size, color: "#1f9a1f", align: "center", width: tw("DATA", size, false) * sx }));
    gfx.push(seq(cx, ys[1], [{ t: "LPM off" }], { size, color: "#10109a", align: "center", width: w }));
    gfx.push(seq(cx, ys[2], [{ t: "LPM on" }], { size, color: "#ff2020", align: "center", width: tw("LPM on", size, false) * sx }));
  }
  function compat(ell: number[], ar: number[], tx: number[]) {
    gfx.push({ type: "ellipse", z: 101, silent: true, shape: { cx: ell[0], cy: ell[1], rx: ell[2], ry: ell[3] }, style: { fill: "none", stroke: ORANGE, lineWidth: 3 } });
    const [x1, y1, x2, y2] = ar;
    gfx.push(hline(x1, y1, x2, y2, ORANGE, 3));
    const len = Math.hypot(x2 - x1, y2 - y1);
    const ux = (x2 - x1) / len, uy = (y2 - y1) / len;
    const L = 16, a = 0.5;
    const ca = Math.cos(a), sa = Math.sin(a);
    gfx.push({ type: "polyline", z: 101, silent: true, shape: { points: [[x2 - L * (ux * ca - uy * sa), y2 - L * (uy * ca + ux * sa)], [x2, y2], [x2 - L * (ux * ca + uy * sa), y2 - L * (uy * ca - ux * sa)]] }, style: { fill: "none", stroke: ORANGE, lineWidth: 3 } });
    gfx.push(seq(tx[0], tx[1], [{ t: "Compatibily zone", b: true }], { size: tx[3], color: ORANGE, align: "center", width: tx[2], rot: (tx[4] * Math.PI) / 180 }));
  }
  const ytitle = (x: number, y: number, t: string, size: number, w: number, color = "#222") =>
    gfx.push(seq(x, y, [{ t }], { size, color, align: "center", width: w, rot: Math.PI / 2 }));
  const meanE = (x: number, y: number, size: number, w: number) =>
    gfx.push(seq(x, y, [{ t: "Mean E" }, { t: "γ", s: 0.7, dy: 0.3 }, { t: " GeV" }], { size, color: "#222", align: "center", width: w }));
  const sub = (t: string, extra: any = {}) => ({ t, s: 0.65, dy: 0.3, ...extra });

  // ---------- Big chart 1: S_in ----------
  const b1 = plot([132, 148, 1131, 896], [0, 3116], [150, 17600], SIN_X_TICKS, 100, SIN_Y_TICKS, 500, "big", 16, 6, 10);
  err(b1, SIN_DATA, GREEN_PT, 3.4, 2, 8);
  fit(b1, SIN_FIT_DATA, GREEN_LN, 3);
  err(b1, SIN_LPM_ON, REDPT, 4, 2.5, 8);
  err(b1, SIN_LPM_OFF, BLUE, 4, 2.5, 8);
  fit(b1, SIN_FIT_ON, REDPT, 3.2);
  fit(b1, SIN_FIT_OFF, BLUE, 3.2);
  gfx.push(seq(156, 91, [{ t: "S", b: true }, sub("In", { b: true }), { t: "-> ", b: true }, { t: "Beginning of the Shower Profile (p-Pb run)" }], { size: 38, color: RED, width: 890 }));
  statBox([147, 154, 532, 316], "#8fd28f", SIN_STAT_DATA, 24, 165, 512, [174, 214, 255, 295]);
  statBox([150, 322, 482, 438], "#22229a", SIN_STAT_OFF, 19, 165, 465, [337, 366, 394, 422]);
  statBox([153, 448, 486, 562], "#d23a3a", SIN_STAT_ON, 19, 167, 470, [463, 490, 518, 546]);
  legend([539, 196, 832, 317], 686, [222, 258, 293], 32, 104);
  compat([246, 776, 97, 75], [342, 776, 1165, 693], [627, 709, 324, 40, 6.7]);
  ytitle(51, 237, "Mean Starting Signal", 15.5, 152);
  meanE(1070, 955, 16, 108);

  // ---------- Big chart 2: S_fin ----------
  const b2 = plot([138, 1066, 1155, 1829], [83, 3118], [-60, 24330], SFIN_X_TICKS, 100, SFIN_Y_TICKS, 1000, "big", 17, 6, 10);
  err(b2, SFIN_DATA, GREEN_PT, 3.4, 2, 8);
  fit(b2, SFIN_FIT_DATA, GREEN_LN, 3);
  err(b2, SFIN_LPM_ON, REDPT, 4, 2.5, 8);
  err(b2, SFIN_LPM_OFF, BLUE, 4, 2.5, 8);
  fit(b2, SFIN_FIT_ON, REDPT, 3.2);
  fit(b2, SFIN_FIT_OFF, BLUE, 3.2);
  gfx.push(seq(179, 1016, [{ t: "S", b: true }, sub("Fin", { b: true }), { t: "-> ", b: true }, { t: "Ending of the Shower Profile (p-Pb run)" }], { size: 38, color: RED, width: 840 }));
  statBox([167, 1071, 553, 1248], "#8fd28f", SFIN_STAT_DATA, 24, 185, 532, [1093, 1136, 1181, 1225]);
  statBox([167, 1255, 475, 1387], "#22229a", SFIN_STAT_OFF, 19, 181, 454, [1271, 1304, 1337, 1370]);
  statBox([166, 1400, 480, 1547], "#d23a3a", SFIN_STAT_ON, 20, 181, 456, [1420, 1457, 1493, 1529]);
  legend([588, 1151, 891, 1259], 739, [1174, 1205, 1237], 27, 91);
  compat([251, 1788, 97, 76], [348, 1787, 1179, 1556], [840, 1696, 332, 41, 16]);
  ytitle(55, 1215, "Mean Second Part Shower Signal", 15.5, 256);
  meanE(1098, 1887, 16, 106);

  // ---------- Big chart 3: X_max ----------
  const b3 = plot([114, 1982, 1414, 2497], [0, 3113], [8.16, 13.34], XMAX_X_TICKS, 100, XMAX_Y_TICKS, 0.2, "big", 20, 4, 7);
  err(b3, XMAX_DATA, GREEN_PT, 3.6, 2, 8);
  fit(b3, XMAX_FIT_DATA, GREEN_LN, 3.2);
  err(b3, XMAX_LPM_ON, REDPT, 4, 2.5, 8);
  err(b3, XMAX_LPM_OFF, BLUE, 4, 2.5, 8);
  fit(b3, XMAX_FIT_ON, REDPT, 3.2);
  fit(b3, XMAX_FIT_OFF, BLUE, 3.2);
  gfx.push(seq(332, 1941, [{ t: "X", b: true }, sub("max", { b: true }), { t: "-> ", b: true }, { t: "X of Maximum (p-Pb run)" }], { size: 38, color: RED, width: 608 }));
  statBox([134, 1988, 475, 2083], "#8fd28f", XMAX_STAT_DATA, 24, 148, 454, [2005, 2035, 2066]);
  statBox([132, 2090, 443, 2172], "#22229a", XMAX_STAT_OFF, 21, 145, 419, [2104, 2131, 2158]);
  statBox([128, 2180, 442, 2263], "#d23a3a", XMAX_STAT_ON, 21, 143, 419, [2195, 2223, 2249]);
  gfx.push(seq(600, 2104, [{ t: "Fit ->  p0*log(p1*E)" }], { size: 26, color: "#111", width: 261 }));
  legend([1037, 2248, 1341, 2356], 1189, [2271, 2303, 2334], 27, 95);
  compat([255, 2420, 102, 66], [359, 2416, 1434, 2357], [812, 2426, 329, 37, 2]);
  ytitle(23, 2042, "X Mean Max", 17, 113);
  meanE(1352, 2528, 19, 123);

  // ---------- Middle text box ----------
  gfx.push(rect([1174, -10, 2182, 395], "#1f3ff0", 3, "#ffffff"));
  gfx.push(seq(1187, 19, [{ t: "To compare the Data and the MCs we:", b: true }], { size: 35, color: "#1c1c96", width: 740 }));
  gfx.push(seq(1189, 63, [{ t: "• estimate compatibility zone where LPM on and" }], { size: 37, color: "#111", width: 924 }));
  gfx.push(seq(1189, 110, [{ t: "off coincide, E" }, sub("γ"), { t: "< 600 GeV" }], { size: 37, color: "#111", width: 484 }));
  gfx.push(seq(1189, 158, [{ t: "• define the percentage differences from the Data" }], { size: 37, color: "#111", width: 970 }));
  gfx.push(seq(1189, 205, [{ t: "for LPM on and off:" }], { size: 37, color: "#111", width: 361 }));
  const supS = (t: string) => ({ t, s: 0.72, dy: -0.42, c: NAVY });
  const subS = (t: string) => ({ t, s: 0.72, dy: 0.3, c: NAVY });
  gfx.push(seq(1677, 260, [{ t: "ΔS", b: true, c: RED }, sub("In", { b: true, c: RED }), { t: " %= ", b: true, c: RED }, { t: "(S", c: NAVY }, subS("in"), supS("Data"), { t: " - S", c: NAVY }, subS("in"), supS("MC"), { t: ")/S", c: NAVY }, subS("in"), supS("Data")], { size: 34, align: "center", width: 526 }));
  gfx.push(seq(1677, 306, [{ t: "ΔS", b: true, c: RED }, sub("Fin", { b: true, c: RED }), { t: " %= ", b: true, c: RED }, { t: "(S", c: NAVY }, subS("fin"), supS("Data"), { t: " - S", c: NAVY }, subS("Fin"), supS("MC"), { t: ")/S", c: NAVY }, subS("Fin"), supS("Data")], { size: 34, align: "center", width: 570 }));
  gfx.push(seq(1677, 355, [{ t: "ΔX", b: true, c: RED }, sub("max", { b: true, c: RED }), { t: " %= ", b: true, c: RED }, { t: "(X", c: NAVY }, subS("Max"), supS("Data"), { t: " - X", c: NAVY }, subS("Max"), supS("MC"), { t: ")/ X", c: NAVY }, subS("Max"), supS("Data")], { size: 34, align: "center", width: 686 }));

  // ---------- Middle low-energy plots ----------
  const midLabel = (box: number[], cx: number, cy: number, w: number, q: string, qs: string, onoff: string, lim: string) => {
    gfx.push(rect(box, "#2850ff", 1.6, "#ffffff"));
    gfx.push(seq(cx, cy, [{ t: "Δ" + q, b: true, c: RED }, sub(qs, { b: true, c: RED }), { t: " " + onoff + " % ", b: true, c: RED }, { t: "E", c: NAVY }, sub("γ", { c: NAVY }), { t: "< " + lim + " GeV", c: NAVY }], { size: 31, align: "center", width: w }));
  };
  const m1 = plot([1220, 596, 1665, 920], [84, 620], [-0.25, 0.25], MID_X_TICKS, 20, MID_SIN_Y_TICKS, 0.01, "mid", 12, 3, 3);
  limits(m1, MID_S_LIMITS, MID_SPAN, "#e0a41e", 3, 9);
  err(m1, DSIN_OFF_LOW, BLUE, 4, 3, 6);
  midLabel([1240, 513, 1605, 583], 1423, 549, 319, "S", "In", "Off", "600");
  ytitle(1187, 642, "Difference On %", 11, 92);
  meanE(1624, 940, 12, 78);

  const m2 = plot([1722, 517, 2167, 840], [82, 619], [-0.25, 0.25], MID_X_TICKS, 20, MID_SIN_Y_TICKS, 0.01, "mid", 12, 3, 3);
  limits(m2, MID_S_LIMITS, MID_SPAN, "#e0a41e", 3, 9);
  err(m2, DSIN_ON_LOW, REDPT, 4, 3, 6);
  midLabel([1729, 435, 2094, 506], 1911, 472, 320, "S", "In", "On", "700");
  ytitle(1690, 562, "Difference On %", 11, 98);
  meanE(2128, 863, 12, 77);

  const m3 = plot([1744, 1070, 2189, 1393], [82, 619], [-0.3, 0.25], MID_X_TICKS, 20, MID_SFIN_Y_TICKS, 0.02, "mid", 12, 3, 3);
  limits(m3, MID_S_LIMITS, MID_SPAN, "#e0a41e", 3, 9);
  err(m3, DSFIN_ON_LOW, REDPT, 4, 3, 6);
  midLabel([1759, 988, 2124, 1059], 1941, 1024, 327, "S", "Fin", "On", "600");
  ytitle(1712, 1118, "Difference On %", 11, 93);
  meanE(2150, 1415, 12, 79);

  const m4 = plot([1243, 1300, 1688, 1624], [82, 619], [-0.3, 0.25], MID_X_TICKS, 20, MID_SFIN_Y_TICKS, 0.02, "mid", 12, 3, 3);
  limits(m4, MID_S_LIMITS, MID_SPAN, "#e0a41e", 3, 9);
  err(m4, DSFIN_OFF_LOW, BLUE, 4, 3, 6);
  midLabel([1252, 1223, 1617, 1294], 1434, 1258, 326, "S", "Fin", "Off", "600");
  ytitle(1212, 1347, "Difference On %", 11, 92);
  meanE(1649, 1646, 12, 78);

  const m5 = plot([1660, 1781, 2105, 2105], [82, 618], [0, 0.1], MID_X_TICKS, 20, MID_X_Y_TICKS, 0.002, "mid", 12, 3, 3);
  limits(m5, MID_X_LIMITS, MID_SPAN, "#e0a41e", 3, 9);
  err(m5, DXMAX_ON_LOW, REDPT, 4, 3, 6);
  midLabel([1664, 1708, 2066, 1773], 1865, 1740, 346, "X", "Max", "On", "600");
  ytitle(1628, 1829, "Difference On %", 11, 91);
  meanE(2066, 2125, 12, 77);

  const m6 = plot([1490, 2213, 1934, 2536], [82, 618], [0, 0.1], MID_X_TICKS, 20, MID_X_Y_TICKS, 0.002, "mid", 12, 3, 3);
  limits(m6, MID_X_LIMITS, MID_SPAN, "#e0a41e", 3, 9);
  err(m6, DXMAX_OFF_LOW, BLUE, 4, 3, 6);
  midLabel([1491, 2139, 1893, 2203], 1691, 2171, 346, "X", "Max", "Off", "600");
  ytitle(1458, 2261, "Difference On %", 11, 90);
  meanE(1896, 2558, 12, 77);

  // ---------- Results ----------
  gfx.push(seq(3167, 70, [{ t: "Results", b: true }], { size: 56, color: "#cc0000", align: "center", width: 190 }));
  const header = (cx: number, cy: number, w: number, q: string, qs: string, onoff: string) =>
    gfx.push(seq(cx, cy, [{ t: "Δ" + q, b: true }, sub(qs, { b: true }), { t: " " + onoff + " %", b: true }], { size: 40, color: "#d00000", align: "center", width: w }));
  header(3166, 177, 188, "S", "In", "On");
  header(3148, 577, 179, "S", "In", "Off");
  header(3180, 993, 192, "S", "Fin", "On");
  header(3174, 1420, 192, "S", "Fin", "Off");
  header(3122, 1855, 221, "X", "Max", "On");
  header(3143, 2235, 217, "X", "Max", "Off");

  const runBox = (box: number[], t: string, w: number) => {
    gfx.push(rect(box, "#2456ff", 1.8, "#ffffff"));
    gfx.push(seq((box[0] + box[2]) / 2, (box[1] + box[3]) / 2 + 1, [{ t }], { size: 31, color: "#0c0c8c", align: "center", width: w }));
  };
  const resRows = [
    { L: [2272, 217, 3084, 530], R: [3218, 218, 4026, 532], yr: [-0.4, 0.4], yt: RES_S_Y_TICKS, ys: 0.02, lim: RES_IN_LIMITS, dl: DSIN_ON_PPB, dr: DSIN_ON_PP, col: REDPT, bl: [2313, 233, 2558, 284], br: [3738, 236, 3983, 287], yl: [2215, 263], yrr: [3159, 264], tt: "Difference On %", lab: [[3150, 335], [3152, 407]], me: [3992, 553] },
    { L: [2272, 626, 3084, 938], R: [3218, 626, 4026, 940], yr: [-0.4, 0.4], yt: RES_S_Y_TICKS, ys: 0.02, lim: RES_IN_LIMITS, dl: DSIN_OFF_PPB, dr: DSIN_OFF_PP, col: BLUE, bl: [2319, 642, 2565, 694], br: [3752, 651, 3997, 702], yl: [2215, 671], yrr: [3159, 671], tt: "Difference On %", lab: [[3156, 730], [3162, 805]], me: [3992, 960] },
    { L: [2279, 1039, 3090, 1371], R: [3203, 1042, 4013, 1373], yr: [-0.4, 0.4], yt: RES_S_Y_TICKS, ys: 0.02, lim: RES_FIN_LIMITS, dl: DSFIN_ON_PPB, dr: DSFIN_ON_PP, col: REDPT, bl: [2315, 1289, 2560, 1340], br: [3743, 1287, 3989, 1338], yl: [2222, 1087], yrr: [3145, 1090], tt: "Difference On %", lab: [[3143, 1160], [3150, 1222]], me: [3977, 1392] },
    { L: [2279, 1472, 3090, 1804], R: [3203, 1474, 4013, 1806], yr: [-0.4, 0.4], yt: RES_S_Y_TICKS, ys: 0.02, lim: RES_FIN_LIMITS, dl: DSFIN_OFF_PPB, dr: DSFIN_OFF_PP, col: BLUE, bl: [2310, 1498, 2556, 1549], br: [3738, 1504, 3983, 1555], yl: [2222, 1520], yrr: [3145, 1522], tt: "Difference Off %", lab: [[3150, 1583], [3152, 1640]], me: [3977, 1826] },
    { L: [2204, 1894, 3029, 2189], R: [3208, 1896, 4033, 2192], yr: [-0.03, 0.12], yt: RES_X_Y_TICKS, ys: 0.005, lim: RES_XM_LIMITS, dl: DXMAX_ON_PPB, dr: DXMAX_ON_PP, col: REDPT, bl: [2659, 1930, 2905, 1982], br: [3293, 1930, 3539, 1982], yl: [2148, 1937], yrr: [3151, 1940], tt: "Difference On %", lab: [[3096, 2038], [3094, 2115]], me: [3996, 2211] },
    { L: [2204, 2279, 3029, 2574], R: [3208, 2282, 4033, 2577], yr: [-0.03, 0.12], yt: RES_X_Y_TICKS, ys: 0.005, lim: RES_XM_LIMITS, dl: DXMAX_OFF_PPB, dr: DXMAX_OFF_PP, col: BLUE, bl: [2659, 2294, 2905, 2345], br: [3305, 2305, 3552, 2356], yl: [2148, 2321], yrr: [3151, 2325], tt: "Difference Off %", lab: [[3101, 2402], [3098, 2498]], me: [3998, 2585] },
  ];
  resRows.forEach((row, i) => {
    const al = plot(row.L, [0, 3215], row.yr, RES_X_TICKS, 100, row.yt, row.ys, "res", 11, 3, 5);
    limits(al, row.lim, RES_SPAN, "#c7a02c", 3.5, 14);
    err(al, row.dl, row.col, 2.7, 2, 4);
    const ar = plot(row.R, [0, 3215], row.yr, RES_X_TICKS, 100, row.yt, row.ys, "res", 11, 3, 5);
    limits(ar, row.lim, RES_SPAN, "#c7a02c", 3.5, 14);
    err(ar, row.dr, row.col, 2.7, 2, 4);
    runBox(row.bl, "p-Pb run", 161);
    runBox(row.br, "p-p run", 139);
    ytitle(row.yl[0], row.yl[1], row.tt, 12, 90, "#555");
    ytitle(row.yrr[0], row.yrr[1], row.tt, 12, 90, "#555");
    RES_LIMIT_LABELS[i].forEach((t, k) => {
      gfx.push(seq(row.lab[k][0], row.lab[k][1], [{ t }], { size: 29, color: ORANGE, align: "center" }));
    });
    meanE(row.me[0], row.me[1], 11, 67);
  });
  meanE(3004, 2585, 11, 67);

  return {
    animation: false,
    backgroundColor: "#ffffff",
    grid: grids,
    xAxis: xAxes,
    yAxis: yAxes,
    series,
    graphic: { elements: gfx },
  };
}

export default function App() {
  const ref = useRef<HTMLDivElement>(null);
  useEffect(() => {
    if (!ref.current) return;
    const chart = echarts.init(ref.current, null, { renderer: "svg" });
    chart.setOption(buildOption() as any);
    return () => chart.dispose();
  }, []);
  return <div ref={ref} style={{ position: "absolute", left: 0, top: 0, width: 4096, height: 2596, background: "#fff" }} />;
}
